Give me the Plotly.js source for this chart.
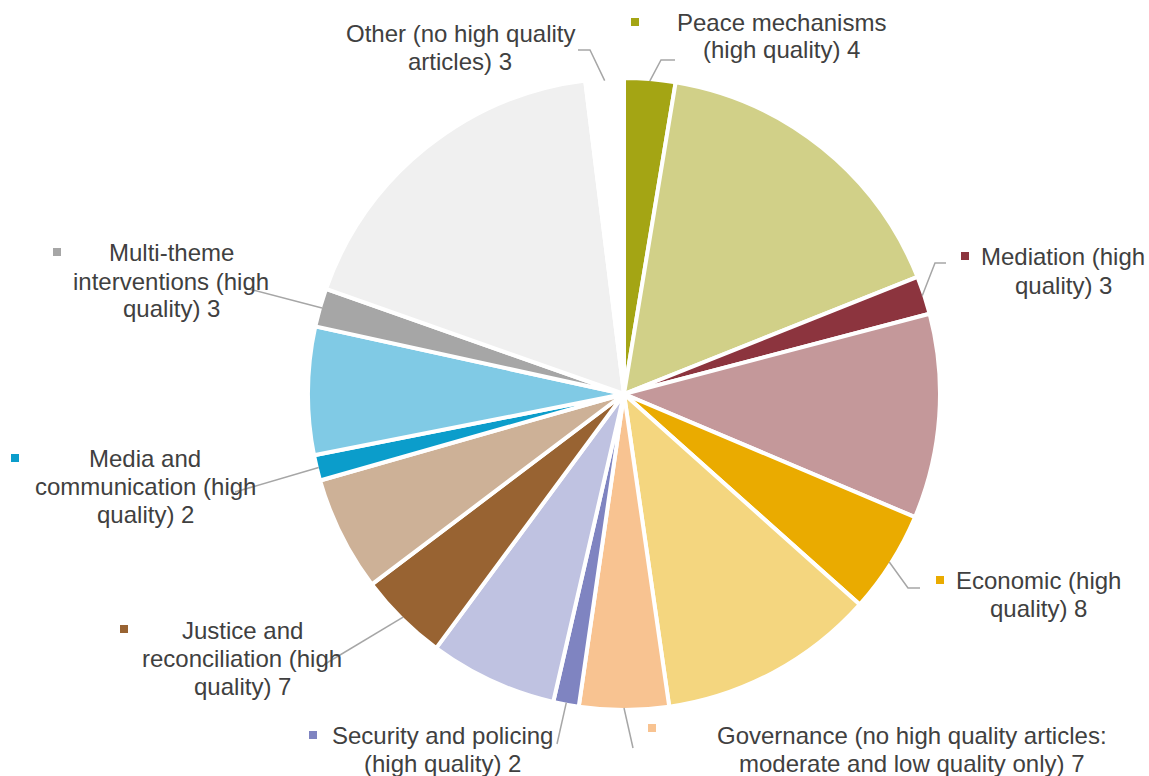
<!DOCTYPE html>
<html><head><meta charset="utf-8">
<script src="https://cdn.plot.ly/plotly-3.0.1.min.js"></script>
<style>html,body{margin:0;padding:0;background:#fff}#chart{width:1149px;height:776px}</style>
</head><body><div id="chart"></div>
<script>
// ---- data ----
const sliceNames = [
  "Peace mechanisms (high quality)", "Peace mechanisms (moderate/low quality)",
  "Mediation (high quality)", "Mediation (moderate/low quality)",
  "Economic (high quality)", "Economic (moderate/low quality)",
  "Governance (moderate and low quality only)",
  "Security and policing (high quality)", "Security and policing (moderate/low quality)",
  "Justice and reconciliation (high quality)", "Justice and reconciliation (moderate/low quality)",
  "Media and communication (high quality)", "Media and communication (moderate/low quality)",
  "Multi-theme interventions (high quality)", "Multi-theme interventions (moderate/low quality)",
  "Other (no high quality articles)"
];
const sliceValues = [4, 25, 3, 16, 8, 17, 7, 2, 10, 7, 9, 2, 10, 3, 27, 3];
const sliceColors = [
  "#A4A514", "#D1D088", "#8C343E", "#C4989A", "#EAAB00", "#F4D67F",
  "#F8C391", "#7F84C1", "#BFC2E1", "#986332", "#CDB197", "#0B9DCB",
  "#80CAE5", "#A6A6A6", "#F0F0F0", "#FFFFFF"
];
// labelled slices (index into arrays above) and their label lines
const labelSlice = [0, 15, 2, 4, 6, 7, 9, 11, 13];
const labelLines = [
  ["Peace mechanisms", "(high quality) 4"],
  ["Other (no high quality", "articles) 3"],
  ["Mediation (high", "quality) 3"],
  ["Economic (high", "quality) 8"],
  ["Governance (no high quality articles:", "moderate and low quality only) 7"],
  ["Security and policing", "(high quality) 2"],
  ["Justice and", "reconciliation (high", "quality) 7"],
  ["Media and", "communication (high", "quality) 2"],
  ["Multi-theme", "interventions (high", "quality) 3"]
];

// ---- layout (pixels) ----
const W = 1149, H = 776;
const CX = 624, CY = 394, R = 316, RV = 314;
const LINE_GAP = 28;
// text centre x, first line y, marker x, marker y, leader path points after start
const labelPos = [
  {cx: 781, y: 22, mx: 635, my: 22, lead: [[661, 60], [675, 60]]},
  {cx: 460, y: 34, mx: null, my: null, lead: [[590, 50], [578, 50]]},
  {cx: 1063, y: 257, mx: 965, my: 256, lead: [[935, 263], [946, 263]]},
  {cx: 1038, y: 580, mx: 940, my: 580, lead: [[908, 588], [920, 588]]},
  {cx: 912, y: 735, mx: 652, my: 728, lead: [[633, 748]]},
  {cx: 442, y: 735, mx: 313, my: 735, lead: [[557, 744]]},
  {cx: 242, y: 630, mx: 124, my: 629, lead: [[325, 664]]},
  {cx: 145, y: 458, mx: 15, my: 458, lead: [[235, 492]]},
  {cx: 171, y: 253, mx: 57, my: 252, lead: [[245, 288]]}
];

const px = x => x / W;
const py = y => 1 - y / H;

const total = sliceValues.reduce((a, b) => a + b, 0);
const cum = [];
sliceValues.reduce((acc, v, i) => { cum[i] = acc; return acc + v; }, 0);
function midPoint(i) {
  const a = (cum[i] + sliceValues[i] / 2) / total * 2 * Math.PI;
  return [CX + RV * Math.sin(a), CY - RV * Math.cos(a)];
}

const annotations = [];
const shapes = [];
const FONT = {family: "Arial, 'Liberation Sans', sans-serif", size: 24, color: "#404040"};

labelSlice.forEach((si, k) => {
  const p = labelPos[k];
  labelLines[k].forEach((t, j) => {
    annotations.push({
      xref: "paper", yref: "paper", x: px(p.cx), y: py(p.y + j * LINE_GAP),
      xanchor: "center", yanchor: "middle", showarrow: false, text: t, font: FONT
    });
  });
  if (p.mx !== null) {
    shapes.push({
      type: "rect", xref: "paper", yref: "paper",
      x0: px(p.mx - 4), x1: px(p.mx + 4), y0: py(p.my + 4), y1: py(p.my - 4),
      fillcolor: sliceColors[si], line: {width: 0}
    });
  }
  const s = midPoint(si);
  let path = "M" + px(s[0]) + "," + py(s[1]);
  p.lead.forEach(pt => { path += " L" + px(pt[0]) + "," + py(pt[1]); });
  shapes.push({type: "path", xref: "paper", yref: "paper", path: path,
    line: {color: "#A6A6A6", width: 1.5}});
});

const trace = {
  type: "pie",
  labels: sliceNames,
  values: sliceValues,
  marker: {colors: sliceColors, line: {color: "#FFFFFF", width: 4}},
  sort: false,
  direction: "clockwise",
  rotation: 0,
  textinfo: "none",
  hoverinfo: "label+value",
  showlegend: false,
  domain: {x: [(CX - R) / W, (CX + R) / W], y: [1 - (CY + R) / H, 1 - (CY - R) / H]}
};

const layout = {
  width: W, height: H,
  margin: {l: 0, r: 0, t: 0, b: 0},
  paper_bgcolor: "#FFFFFF",
  plot_bgcolor: "#FFFFFF",
  showlegend: false,
  annotations: annotations,
  shapes: shapes
};

Plotly.newPlot("chart", [trace], layout, {displayModeBar: false, staticPlot: true});
</script>
</body></html>
